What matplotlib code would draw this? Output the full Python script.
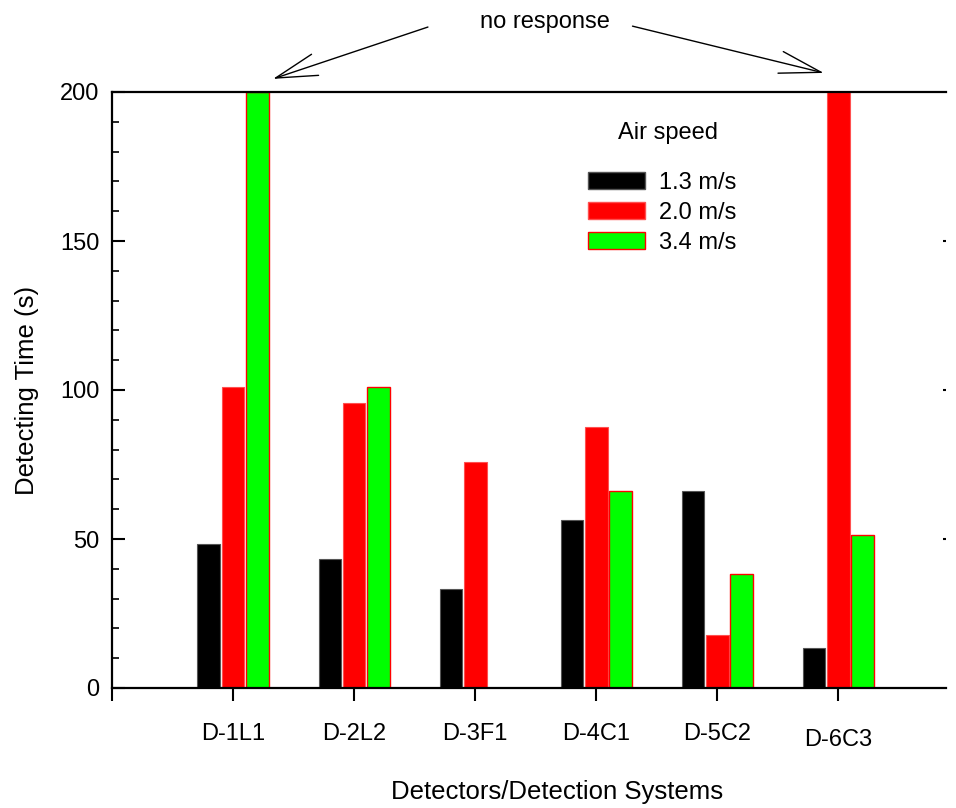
import matplotlib
matplotlib.use("Agg")
import matplotlib.pyplot as plt
import matplotlib.transforms as mtransforms
from matplotlib.patches import Patch
import numpy as np

plt.rcParams['font.family'] = ['Liberation Sans', 'DejaVu Sans']

# Data (values above 200 = no response, clipped at top)
detectors = ['D-1L1', 'D-2L2', 'D-3F1', 'D-4C1', 'D-5C2', 'D-6C3']
speed_labels = ['1.3 m/s', '2.0 m/s', '3.4 m/s']
t_13 = [48.3, 43.3, 33.2, 56.4, 66.1, 13.4]
t_20 = [101, 95.6, 75.8, 87.6, 17.8, 200]
t_34 = [200, 101, 0, 66.1, 38.3, 51.3]

fig = plt.figure(figsize=(9.56, 8.08), dpi=100)
ax = fig.add_axes([112/956, 1 - 688/808, 834/956, 596/808])

x = np.arange(1, len(detectors) + 1)
w = 0.188
off = 0.2
ax.bar(x - off, t_13, w, color='black', edgecolor='#555555', linewidth=0.8)
ax.bar(x, t_20, w, color='#ff0000', edgecolor='#ff5050', linewidth=0.8)
ax.bar(x + off, [v if v > 0 else np.nan for v in t_34], w,
       color='#00ff00', edgecolor='#ff0000', linewidth=1.0)

ax.set_xlim(0, 6.89)
ax.set_ylim(0, 200)

# spines: left, bottom, top; no right spine
ax.spines['right'].set_visible(False)
for s in ['left', 'bottom', 'top']:
    ax.spines[s].set_linewidth(1.6)

ax.set_xticks(np.concatenate([[0], x]))
ax.set_xticklabels([''] + detectors)
ax.set_yticks([0, 50, 100, 150, 200])
ax.set_yticks(np.arange(0, 201, 10), minor=True)
ax.tick_params(axis='x', which='major', direction='out', length=9, width=1.5,
               labelsize=17, pad=16, top=False)
ax.tick_params(axis='y', which='major', direction='in', length=9, width=1.5,
               labelsize=17, pad=9, right=False)
ax.tick_params(axis='y', which='minor', direction='in', length=5, width=1.2,
               right=False)

# last label sits a little lower in the reference
lab = ax.get_xticklabels()[-1]
lab.set_transform(lab.get_transform() +
                  mtransforms.ScaledTranslation(0, -6/100, fig.dpi_scale_trans))

# tiny right-side marks
ax2 = ax.twinx()
ax2.set_ylim(0, 200)
for s in ax2.spines.values():
    s.set_visible(False)
ax2.set_yticks([50, 100, 150])
ax2.tick_params(axis='y', direction='in', length=2, width=1.5, labelright=False)

ax.set_xlabel('Detectors/Detection Systems', fontsize=18.5)
ax.xaxis.set_label_coords(0.534, -0.155)
ax.set_ylabel('Detecting Time (s)', fontsize=18.5)
ax.yaxis.set_label_coords(-0.087, 0.5)

# legend
handles = [Patch(facecolor='black', edgecolor='#555555'),
           Patch(facecolor='#ff0000', edgecolor='#ff5050'),
           Patch(facecolor='#00ff00', edgecolor='#ff0000')]
ax.text(668/956, 1 - 133/808, 'Air speed', transform=fig.transFigure,
        ha='center', va='center', fontsize=17)
fig.legend(handles, speed_labels, loc='upper left',
           bbox_to_anchor=(588/956, 1 - 172/808), frameon=False,
           fontsize=17, borderpad=0, borderaxespad=0, handlelength=2.4,
           handleheight=0.75, handletextpad=0.6, labelspacing=0.33)

# "no response" annotation
ax.text(3.58, 223.5, 'no response', ha='center', va='center', fontsize=17,
        clip_on=False)
arrow = dict(arrowstyle='->,head_length=1.5,head_width=0.4', color='black',
             lw=1.0, shrinkA=0, shrinkB=0, mutation_scale=20)
ax.annotate('', xy=(1.33, 204.4), xytext=(2.61, 221.8), arrowprops=arrow,
            annotation_clip=False)
ax.annotate('', xy=(5.88, 206.4), xytext=(4.30, 222.1), arrowprops=arrow,
            annotation_clip=False)

fig.savefig('out.png', dpi=100)
